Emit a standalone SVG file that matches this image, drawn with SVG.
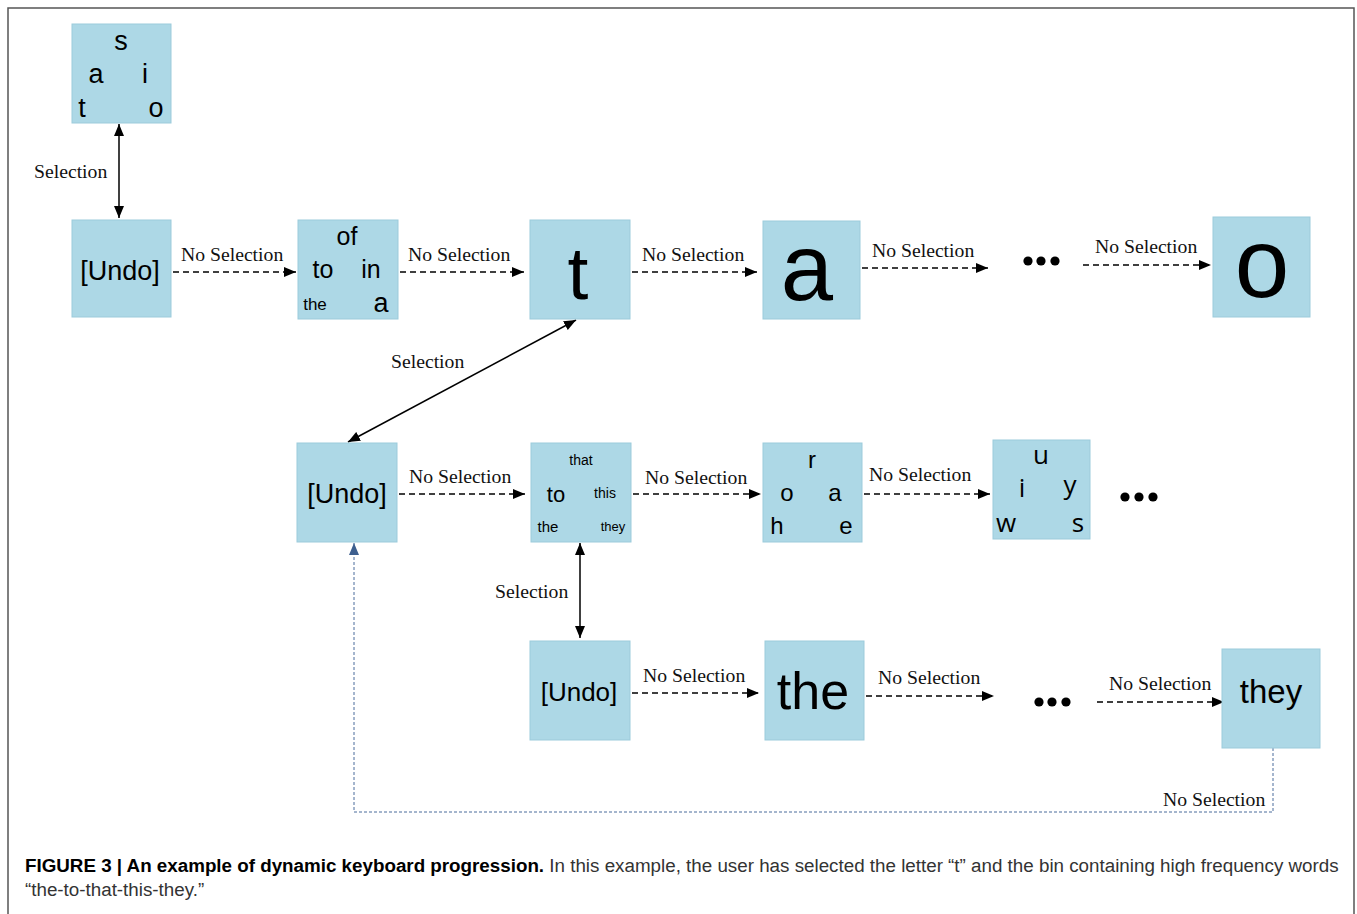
<svg xmlns="http://www.w3.org/2000/svg" width="1357" height="914" viewBox="0 0 1357 914">
<defs>
<style>
.box{fill:#add8e6;stroke:#9ccbdb;stroke-width:1}
.k{font-family:"Liberation Sans",Arial,sans-serif;fill:#000;text-anchor:middle}
.c{font-family:"Open Sans","Noto Sans",sans-serif;fill:#000;text-anchor:middle}
.lbl{font-family:"Liberation Serif","Times New Roman",serif;font-size:19.7px;fill:#111}
.dash{stroke:#000;stroke-width:1.5;stroke-dasharray:6 4;fill:none}
.solid{stroke:#000;stroke-width:1.5;fill:none}
.blue{stroke:#4a6d9c;stroke-width:1;stroke-dasharray:3 2;fill:none}
.cap{font-family:"Liberation Sans",Arial,sans-serif;font-size:18.8px;fill:#333}
</style>
<marker id="ah" viewBox="0 0 12 10" refX="12" refY="5" markerWidth="12" markerHeight="10" markerUnits="userSpaceOnUse" orient="auto-start-reverse">
<path d="M0,0 L12,5 L0,10 Z" fill="#000"/>
</marker>
<marker id="ahb" viewBox="0 0 12 10" refX="12" refY="5" markerWidth="12" markerHeight="10" markerUnits="userSpaceOnUse" orient="auto">
<path d="M0,0 L12,5 L0,10 Z" fill="#3d5f8f"/>
</marker>
</defs>
<rect x="0" y="0" width="1357" height="914" fill="#fff"/>
<path d="M8,920 V8 H1354 V920" fill="none" stroke="#555" stroke-width="1.5"/>

<g id="connectors">
<line class="solid" x1="119" y1="124" x2="119" y2="218" marker-start="url(#ah)" marker-end="url(#ah)"/>
<text class="lbl" x="34" y="178">Selection</text>
<line class="dash" x1="173" y1="272" x2="296" y2="272" marker-end="url(#ah)"/>
<text class="lbl" x="181" y="261">No Selection</text>
<line class="dash" x1="400" y1="272" x2="524" y2="272" marker-end="url(#ah)"/>
<text class="lbl" x="408" y="261">No Selection</text>
<line class="dash" x1="632" y1="272" x2="757" y2="272" marker-end="url(#ah)"/>
<text class="lbl" x="642" y="261">No Selection</text>
<line class="dash" x1="862" y1="268" x2="988" y2="268" marker-end="url(#ah)"/>
<text class="lbl" x="872" y="257">No Selection</text>
<line class="dash" x1="1083" y1="265" x2="1211" y2="265" marker-end="url(#ah)"/>
<text class="lbl" x="1095" y="253">No Selection</text>

<line class="solid" x1="576" y1="320" x2="348" y2="442" marker-start="url(#ah)" marker-end="url(#ah)"/>
<text class="lbl" x="391" y="368">Selection</text>

<line class="dash" x1="399" y1="494" x2="525" y2="494" marker-end="url(#ah)"/>
<text class="lbl" x="409" y="483">No Selection</text>
<line class="dash" x1="633" y1="494" x2="761" y2="494" marker-end="url(#ah)"/>
<text class="lbl" x="645" y="484">No Selection</text>
<line class="dash" x1="864" y1="494" x2="990" y2="494" marker-end="url(#ah)"/>
<text class="lbl" x="869" y="481">No Selection</text>

<line class="solid" x1="580" y1="543" x2="580" y2="638" marker-start="url(#ah)" marker-end="url(#ah)"/>
<text class="lbl" x="495" y="598">Selection</text>

<line class="dash" x1="632" y1="693" x2="759" y2="693" marker-end="url(#ah)"/>
<text class="lbl" x="643" y="682">No Selection</text>
<line class="dash" x1="866" y1="696" x2="994" y2="696" marker-end="url(#ah)"/>
<text class="lbl" x="878" y="684">No Selection</text>
<line class="dash" x1="1097" y1="702" x2="1224" y2="702" marker-end="url(#ah)"/>
<text class="lbl" x="1109" y="690">No Selection</text>

<path class="blue" d="M1273,748 V812 H354 V543" marker-end="url(#ahb)"/>
<text class="lbl" x="1163" y="806">No Selection</text>
</g>

<g id="node-top">
<rect class="box" x="72" y="24" width="99" height="99"/>
<text class="k" font-size="27" x="121" y="50">s</text>
<text class="k" font-size="27" x="96" y="83">a</text>
<text class="k" font-size="27" x="145" y="83">i</text>
<text class="k" font-size="27" x="82" y="117">t</text>
<text class="k" font-size="27" x="156" y="117">o</text>
</g>
<g id="node-undo1">
<rect class="box" x="72" y="220" width="99" height="97"/>
<text class="k" font-size="27" x="120" y="280">[Undo]</text>
</g>
<g id="node-words1">
<rect class="box" x="298" y="220" width="100" height="99"/>
<text class="k" font-size="25" x="347" y="245">of</text>
<text class="k" font-size="25" x="323" y="278">to</text>
<text class="k" font-size="25" x="371" y="278">in</text>
<text class="k" font-size="17" x="315" y="310">the</text>
<text class="k" font-size="27" x="381" y="312">a</text>
</g>
<g id="node-t">
<rect class="box" x="530" y="220" width="100" height="99"/>
<text class="k" font-size="75" x="578" y="299">t</text>
</g>
<g id="node-a">
<rect class="box" x="763" y="221" width="97" height="98"/>
<text class="k" font-size="94" x="807" y="300">a</text>
</g>
<g id="dots1">
<circle cx="1028" cy="261" r="4.6"/><circle cx="1041" cy="261" r="4.6"/><circle cx="1055" cy="261" r="4.6"/>
</g>
<g id="node-o">
<rect class="box" x="1213" y="217" width="97" height="100"/>
<text class="k" font-size="98" x="1262" y="297">o</text>
</g>

<g id="node-undo2">
<rect class="box" x="297" y="443" width="100" height="99"/>
<text class="k" font-size="27" x="347" y="503">[Undo]</text>
</g>
<g id="node-words2">
<rect class="box" x="531" y="443" width="100" height="99"/>
<text class="k" font-size="14" x="581" y="465">that</text>
<text class="k" font-size="22" x="556" y="502">to</text>
<text class="k" font-size="14" x="605" y="498">this</text>
<text class="k" font-size="15" x="548" y="532">the</text>
<text class="k" font-size="13" x="613" y="531">they</text>
</g>
<g id="node-letters2">
<rect class="box" x="763" y="443" width="99" height="99"/>
<text class="k" font-size="24" x="812" y="468">r</text>
<text class="k" font-size="24" x="787" y="501">o</text>
<text class="k" font-size="24" x="835" y="501">a</text>
<text class="k" font-size="24" x="777" y="534">h</text>
<text class="k" font-size="24" x="846" y="534">e</text>
</g>
<g id="node-letters3">
<rect class="box" x="993" y="440" width="97" height="99"/>
<text class="c" font-size="26" x="1041" y="464">u</text>
<text class="c" font-size="26" x="1022" y="497">i</text>
<text class="c" font-size="26" x="1070" y="494">y</text>
<text class="c" font-size="26" x="1006" y="532">w</text>
<text class="c" font-size="26" x="1078" y="532">s</text>
</g>
<g id="dots2">
<circle cx="1125" cy="497" r="4.6"/><circle cx="1139" cy="497" r="4.6"/><circle cx="1153" cy="497" r="4.6"/>
</g>

<g id="node-undo3">
<rect class="box" x="530" y="641" width="100" height="99"/>
<text class="k" font-size="26" x="579" y="701">[Undo]</text>
</g>
<g id="node-the">
<rect class="box" x="765" y="641" width="99" height="99"/>
<text class="k" font-size="52" x="813" y="709">the</text>
</g>
<g id="dots3">
<circle cx="1039" cy="702" r="4.6"/><circle cx="1052" cy="702" r="4.6"/><circle cx="1066" cy="702" r="4.6"/>
</g>
<g id="node-they">
<rect class="box" x="1222" y="649" width="98" height="99"/>
<text class="k" font-size="33" x="1271" y="703">they</text>
</g>

<g id="caption">
<text class="cap" x="25" y="872"><tspan font-weight="bold" fill="#000">FIGURE 3 | An example of dynamic keyboard progression.</tspan> In this example, the user has selected the letter “t” and the bin containing high frequency words</text>
<text class="cap" x="25" y="896">“the-to-that-this-they.”</text>
</g>
</svg>
